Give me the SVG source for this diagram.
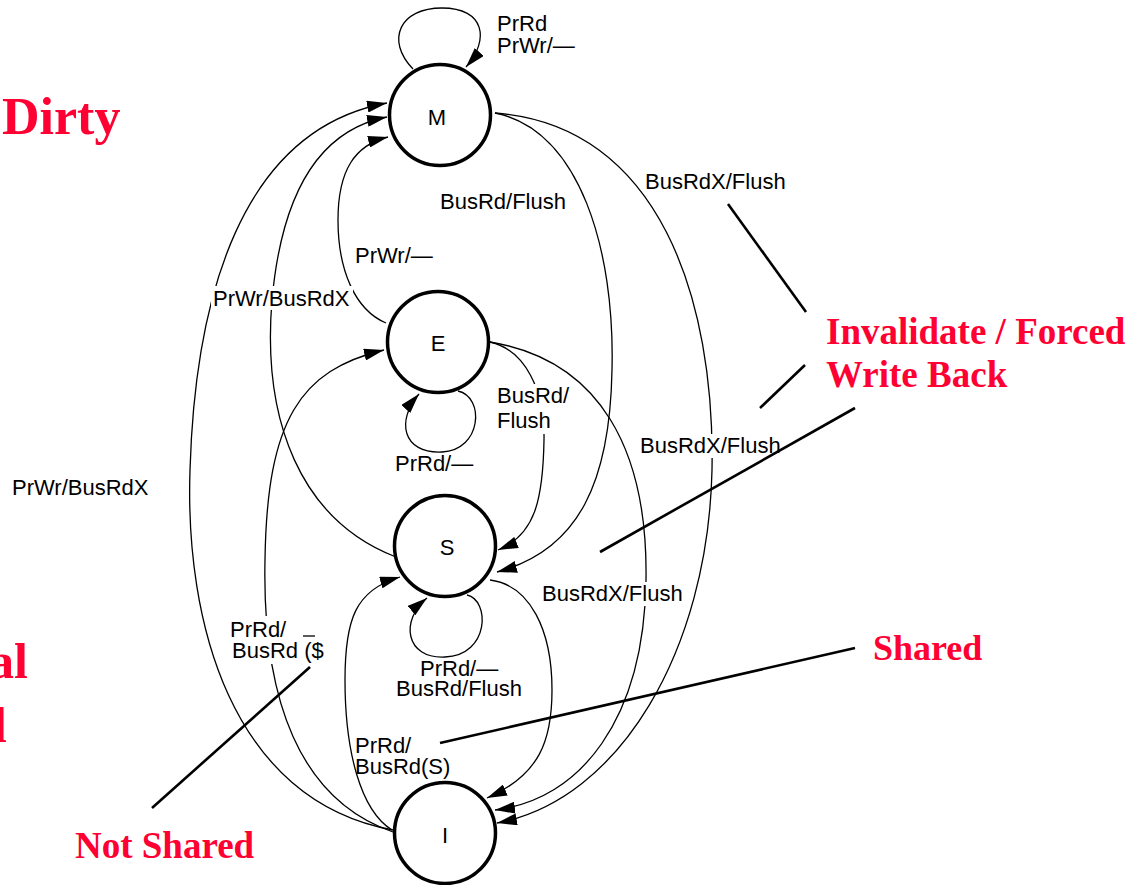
<svg xmlns="http://www.w3.org/2000/svg" width="1135" height="885" viewBox="0 0 1135 885">
<style>
.node{fill:#fff;stroke:#000;stroke-width:3.5}
.nl{font-family:"Liberation Sans",Arial,sans-serif;font-size:22px;text-anchor:middle;fill:#000}
.lbl{font-family:"Liberation Sans",Arial,sans-serif;font-size:22px;fill:#000}
.edge{fill:none;stroke:#000;stroke-width:1.3}
.arr{marker-end:url(#ah)}
.note{stroke:#000;stroke-width:2.6;fill:none}
.red{font-family:"Liberation Serif","Times New Roman",serif;font-weight:bold;fill:#ff0033}
.bg{fill:#fff}
</style>
<defs>
<marker id="ah" viewBox="0 0 20 12" refX="20" refY="6" markerWidth="20" markerHeight="12" markerUnits="userSpaceOnUse" orient="auto">
<path d="M0,0 L20,6 L0,12 Z" fill="#000"/>
</marker>
</defs>
<rect width="1135" height="885" fill="#fff"/>
<g id="connectors">
<path class="edge arr" d="M413,69 C385,40 400,8 442,8 C485,8 490,40 466,67"/>
<path class="edge arr" d="M393,830 C230,800 185,620 190,470 C195,300 240,130 387,103"/>
<path class="edge arr" d="M396,557 C300,520 262,420 272,300 C282,190 320,130 387,117"/>
<path class="edge arr" d="M386,323 C355,310 338,270 338,220 C338,170 355,145 388,137"/>
<path class="edge arr" d="M393,832 C300,800 262,700 265,560 C267,420 300,370 384,350"/>
<path class="edge arr" d="M392,830 C360,810 345,750 345,680 C345,620 355,590 400,577"/>
<path class="edge arr" d="M495,113 C580,130 615,250 612,370 C610,480 580,550 497,572"/>
<path class="edge arr" d="M490,342 C525,350 545,390 544,440 C543,500 535,535 498,550"/>
<path class="edge arr" d="M490,342 C600,360 648,450 646,580 C644,720 580,800 495,810"/>
<path class="edge arr" d="M495,113 C660,125 715,300 712,470 C708,650 620,800 497,823"/>
<path class="edge arr" d="M490,580 C530,585 552,630 552,690 C552,740 540,775 487,798"/>
<path class="edge arr" d="M458,391 C485,397 482,450 442,452 C402,454 396,420 419,394"/>
<path class="edge arr" d="M467,595 C490,600 490,655 445,657 C405,659 400,620 427,598"/>
</g>
<g id="node-M"><circle class="node" cx="440" cy="115" r="50.5"/><text class="nl" x="437" y="125">M</text></g>
<g id="node-E"><circle class="node" cx="438" cy="342" r="50.5"/><text class="nl" x="438" y="351">E</text></g>
<g id="node-S"><circle class="node" cx="445" cy="546" r="50.5"/><text class="nl" x="447" y="555">S</text></g>
<g id="node-I"><circle class="node" cx="445" cy="833" r="50.5"/><text class="nl" x="445" y="843">I</text></g>
<g id="labels">
<text class="lbl" x="497" y="31">PrRd</text>
<text class="lbl" x="497" y="53">PrWr/—</text>
<text class="lbl" x="440" y="209">BusRd/Flush</text>
<text class="lbl" x="645" y="189">BusRdX/Flush</text>
<text class="lbl" x="355" y="263">PrWr/—</text>
<rect class="bg" x="211" y="286" width="142" height="24"/>
<text class="lbl" x="213" y="306">PrWr/BusRdX</text>
<rect class="bg" x="494" y="384" width="80" height="50"/>
<text class="lbl" x="497" y="403">BusRd/</text>
<text class="lbl" x="497" y="428">Flush</text>
<text class="lbl" x="395" y="471">PrRd/—</text>
<rect class="bg" x="638" y="434" width="148" height="24"/>
<text class="lbl" x="640" y="453">BusRdX/Flush</text>
<text class="lbl" x="12" y="495">PrWr/BusRdX</text>
<rect class="bg" x="540" y="582" width="148" height="24"/>
<text class="lbl" x="542" y="601">BusRdX/Flush</text>
<rect class="bg" x="228" y="616" width="94" height="48"/>
<text class="lbl" x="230" y="637">PrRd/</text>
<text class="lbl" x="232" y="658">BusRd ($</text>
<line x1="303" y1="636" x2="315" y2="636" stroke="#000" stroke-width="1.3"/>
<text class="lbl" x="420" y="676">PrRd/—</text>
<text class="lbl" x="396" y="696">BusRd/Flush</text>
<text class="lbl" x="355" y="753">PrRd/</text>
<text class="lbl" x="355" y="774">BusRd(S)</text>
</g>
<g id="notes">
<line class="note" x1="728" y1="204" x2="806" y2="312"/>
<line class="note" x1="760" y1="408" x2="805" y2="365"/>
<line class="note" x1="600" y1="552" x2="855" y2="408"/>
<line class="note" x1="440" y1="743" x2="855" y2="648"/>
<line class="note" x1="152" y1="808" x2="310" y2="667"/>
<text class="red" x="2" y="134" font-size="52">Dirty</text>
<text class="red" x="826" y="344" font-size="37">Invalidate / Forced</text>
<text class="red" x="826" y="387" font-size="37">Write Back</text>
<text class="red" x="873" y="660" font-size="36">Shared</text>
<text class="red" x="75" y="858" font-size="37">Not Shared</text>
<text class="red" x="28" y="678" font-size="50" text-anchor="end">al</text>
<text class="red" x="7" y="742" font-size="50" font-weight="normal" text-anchor="end">l</text>
</g>
</svg>
